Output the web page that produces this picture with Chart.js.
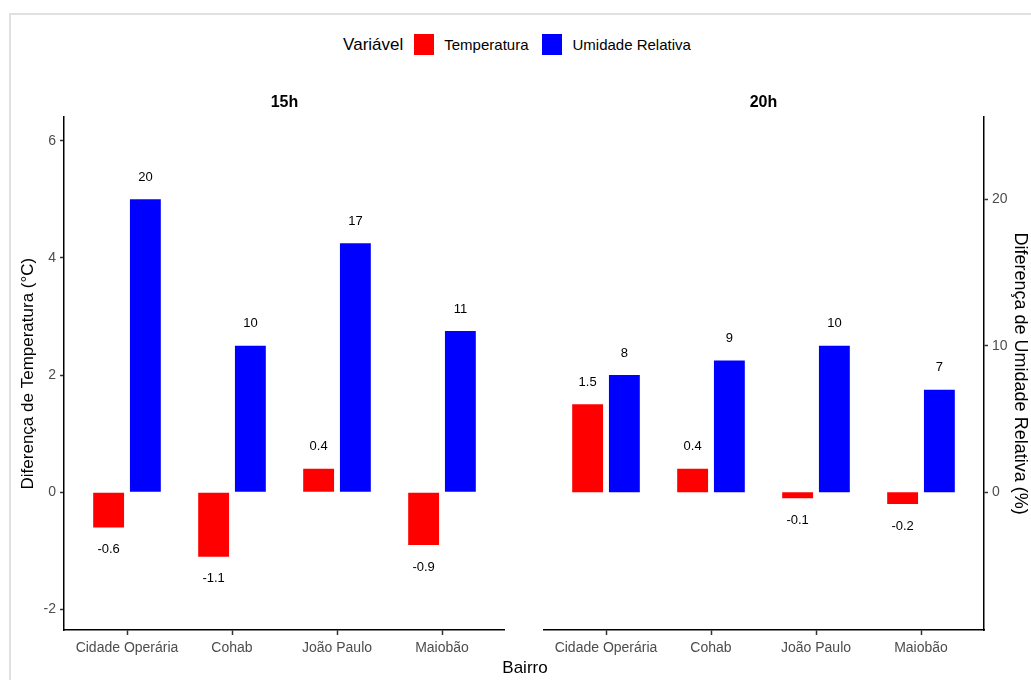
<!DOCTYPE html>
<html lang="pt">
<head>
<meta charset="utf-8">
<title>Diferença de temperatura e umidade por bairro</title>
<script src="https://cdn.jsdelivr.net/npm/chart.js@4/dist/chart.umd.min.js"></script>
<style>
  body { margin: 0; background: #fff; font-family: "Liberation Sans", Arial, sans-serif; }
  #quadro { position: absolute; left: 9px; top: 13px; width: 1030px; height: 680px;
            border-top: 2px solid #e0e0e0; border-left: 2px solid #e0e0e0; }
  #legenda { position: absolute; left: 0; width: 1048px; top: 34px; display: flex;
             justify-content: center; align-items: center; color: #000; }
  #legenda .tit { font-size: 17px; margin-right: 11px; }
  #legenda .cx { width: 20px; height: 21px; margin-right: 10px; }
  #legenda .item { font-size: 15px; margin-right: 14px; }
  #bairro { position: absolute; left: 0; width: 1050px; top: 658px; text-align: center;
            font-size: 17px; color: #000; }
  canvas { position: absolute; }
</style>
</head>
<body>
<div id="quadro"></div>
<div id="legenda">
  <span class="tit">Variável</span>
  <span class="cx" style="background:#ff0000"></span><span class="item">Temperatura</span>
  <span class="cx" style="background:#0000ff"></span><span class="item">Umidade Relativa</span>
</div>
<canvas id="painel15" width="491" height="575" style="left:14px; top:85px"></canvas>
<canvas id="painel20" width="488" height="575" style="left:543px; top:85px"></canvas>
<div id="bairro">Bairro</div>
<script>
const bairros = ['Cidade Operária', 'Cohab', 'João Paulo', 'Maiobão'];
const temp15 = [-0.6, -1.1, 0.4, -0.9];
const umid15 = [20, 10, 17, 11];
const temp20 = [1.5, 0.4, -0.1, -0.2];
const umid20 = [8, 9, 10, 7];
const ticksTemp = [-2, 0, 2, 4, 6];
const ticksUmid = [0, 10, 20];
const fator = 4; // 20 % de umidade = 5 °C no eixo

const fonte = '"Liberation Sans", Arial, sans-serif';
const yMin = -2.35, yMax = 6.4;

// rótulos com o valor acima/abaixo de cada barra
const rotulos = {
    id: 'rotulos',
    afterDatasetsDraw(chart) {
        const ctx = chart.ctx;
        ctx.save();
        ctx.font = '13px ' + fonte;
        ctx.fillStyle = '#000';
        ctx.textAlign = 'center';
        ctx.textBaseline = 'middle';
        chart.data.datasets.forEach((ds, i) => {
            chart.getDatasetMeta(i).data.forEach((bar, j) => {
                const v = ds.valores[j];
                const y = v >= 0 ? bar.y - 22 : bar.y + 22;
                ctx.fillText(String(v), bar.x, y);
            });
        });
        ctx.restore();
    }
};

function eixoX() {
    return {
        type: 'linear',
        min: 0.4,
        max: 4.6,
        offset: false,
        border: { display: true, color: '#000', width: 1.5 },
        grid: {
            offset: false,
            drawOnChartArea: false,
            drawTicks: true,
            tickLength: 5,
            tickWidth: 1.5,
            tickColor: '#333'
        },
        ticks: {
            color: '#4d4d4d',
            font: { family: fonte, size: 14 },
            padding: 5,
            maxRotation: 0,
            autoSkip: false,
            callback: v => bairros[v - 1]
        },
        afterBuildTicks: s => { s.ticks = bairros.map((b, i) => ({ value: i + 1 })); },
        afterFit: s => { s.height = 30; }
    };
}

function painel(id, titulo, temp, umid, lado) {
    const scales = { x: eixoX() };
    if (lado === 'esq') {
        scales.y = {
            min: yMin,
            max: yMax,
            position: 'left',
            border: { display: true, color: '#000', width: 1.5 },
            grid: { drawOnChartArea: false, tickLength: 4, tickWidth: 1.5, tickColor: '#333' },
            ticks: { color: '#4d4d4d', font: { family: fonte, size: 14 }, padding: 4 },
            afterBuildTicks: s => { s.ticks = ticksTemp.map(v => ({ value: v })); },
            afterFit: s => { s.width = 50; },
            title: {
                display: true,
                text: 'Diferença de Temperatura (°C)',
                color: '#000',
                font: { family: fonte, size: 17 },
                padding: { top: 4, bottom: 0 }
            }
        };
    } else {
        scales.y = { min: yMin, max: yMax, display: false };
        scales.y2 = {
            min: yMin * fator,
            max: yMax * fator,
            position: 'right',
            border: { display: true, color: '#000', width: 1.5 },
            grid: { drawOnChartArea: false, tickLength: 4, tickWidth: 1.5, tickColor: '#333' },
            ticks: { color: '#4d4d4d', font: { family: fonte, size: 14 }, padding: 4 },
            afterBuildTicks: s => { s.ticks = ticksUmid.map(v => ({ value: v })); },
            afterFit: s => { s.width = 47; },
            title: {
                display: true,
                text: 'Diferença de Umidade Relativa (%)',
                color: '#000',
                font: { family: fonte, size: 18 },
                padding: { top: 0, bottom: 0 }
            }
        };
    }

    return new Chart(document.getElementById(id).getContext('2d'), {
        type: 'bar',
        data: {
            datasets: [{
                label: 'Temperatura',
                data: temp.map((v, i) => ({ x: i + 1, y: v })),
                valores: temp,
                backgroundColor: '#ff0000',
                yAxisID: 'y',
                categoryPercentage: 0.70,
                barPercentage: 0.84
            }, {
                label: 'Umidade Relativa',
                data: umid.map((v, i) => ({ x: i + 1, y: v / fator })),
                valores: umid,
                backgroundColor: '#0000ff',
                yAxisID: 'y',
                categoryPercentage: 0.70,
                barPercentage: 0.84
            }]
        },
        options: {
            responsive: false,
            animation: false,
            layout: { padding: 0 },
            scales: scales,
            plugins: {
                legend: { display: false },
                tooltip: { enabled: false },
                title: {
                    display: true,
                    text: titulo,
                    fullSize: false,
                    color: '#000',
                    font: { family: fonte, size: 16, weight: 'bold' },
                    padding: { top: 8, bottom: 5 }
                }
            }
        },
        plugins: [rotulos]
    });
}

painel('painel15', '15h', temp15, umid15, 'esq');
painel('painel20', '20h', temp20, umid20, 'dir');
</script>
</body>
</html>
